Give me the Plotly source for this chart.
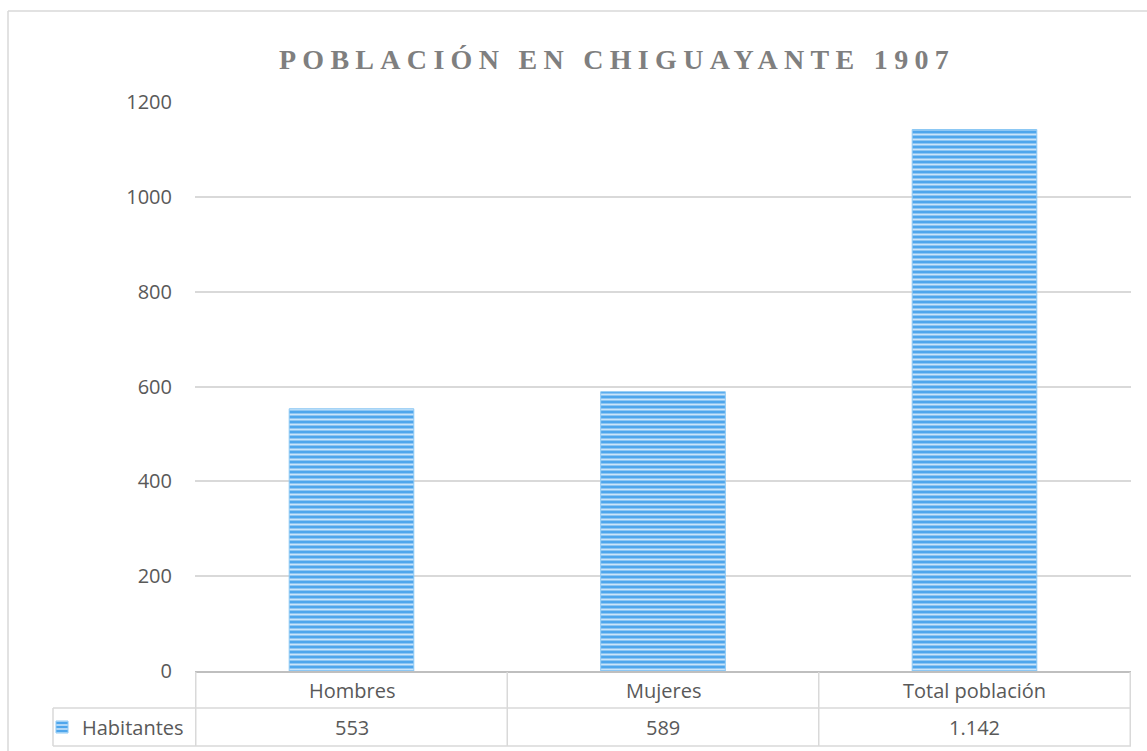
import plotly.graph_objects as go

# ---- data ----
categories = ["Hombres", "Mujeres", "Total población"]
habitantes = [553, 589, 1142]
value_labels = ["553", "589", "1.142"]
series_name = "Habitantes"
title_text = "POBLACIÓN EN CHIGUAYANTE 1907"
y_ticks = [0, 200, 400, 600, 800, 1000, 1200]

W, H = 1147, 751
ML, MR, MT, MB = 195, 16, 102, 80
pw = W - ML - MR
ph = H - MT - MB


def py(px):
    """pixel row -> paper y"""
    return (H - MB - px) / ph


def pxx(px):
    """pixel column -> paper x"""
    return (px - ML) / pw


grid_c = "#d9d9d9"
text_c = "#595959"
font_fam = "Open Sans, Noto Sans, sans-serif"

fig = go.Figure()
fig.add_trace(go.Bar(
    x=categories,
    y=habitantes,
    name=series_name,
    marker=dict(
        color="#4ea6ec",
        line=dict(color="#8cc8f4", width=1),
        pattern=dict(shape="-", fgcolor="#c9e4fa", bgcolor="#4ea6ec", size=5,
                     solidity=0.4, fillmode="replace"),
    ),
    showlegend=True,
))

shapes = []
line_style = dict(color=grid_c, width=1.5)
row1_top = py(672)
row_mid = py(708)
row_bot = py(746)
# horizontal table lines
shapes.append(dict(type="line", xref="paper", yref="paper", x0=pxx(53), x1=1, y0=row_mid, y1=row_mid, line=line_style))
shapes.append(dict(type="line", xref="paper", yref="paper", x0=pxx(53), x1=1, y0=row_bot, y1=row_bot, line=line_style))
# vertical category boundaries (through the x scale)
n = len(categories)
for i in range(n + 1):
    shapes.append(dict(type="line", xref="x", yref="paper", x0=i - 0.5, x1=i - 0.5,
                       y0=row1_top, y1=row_bot, line=line_style))
# legend cell left edge
shapes.append(dict(type="line", xref="paper", yref="paper", x0=pxx(53), x1=pxx(53),
                   y0=row_mid, y1=row_bot, line=line_style))
# outer chart frame (top + left)
shapes.append(dict(type="line", xref="paper", yref="paper", x0=pxx(8), x1=pxx(1160),
                   y0=py(11), y1=py(11), line=dict(color=grid_c, width=1.5)))
shapes.append(dict(type="line", xref="paper", yref="paper", x0=pxx(8), x1=pxx(8),
                   y0=py(11), y1=py(760), line=dict(color=grid_c, width=1.5)))

annotations = []
for c, v in zip(categories, value_labels):
    annotations.append(dict(x=c, xref="x", y=(row1_top + row_mid) / 2, yref="paper",
                            text=c, showarrow=False, yanchor="middle",
                            font=dict(family=font_fam, size=20, color=text_c)))
    annotations.append(dict(x=c, xref="x", y=(row_mid + row_bot) / 2, yref="paper",
                            text=v, showarrow=False, yanchor="middle",
                            font=dict(family=font_fam, size=20, color=text_c)))

fig.update_layout(
    width=W, height=H,
    margin=dict(l=ML, r=MR, t=MT, b=MB, autoexpand=False),
    paper_bgcolor="white", plot_bgcolor="white",
    bargap=0.6,
    title=dict(text="<b>" + title_text + "</b>", x=617 / W, xref="container", xanchor="center",
               y=1 - 59 / H, yref="container", yanchor="middle",
               font=dict(family="Liberation Serif, Times New Roman, serif", size=28, color="#7f7f7f")),
    xaxis=dict(showticklabels=False, showgrid=False, showline=True, linecolor="#bfbfbf",
               linewidth=2, ticks="", zeroline=False),
    yaxis=dict(range=[0, 1200], tickvals=y_ticks, showgrid=True, gridcolor=grid_c, gridwidth=1.5,
               zeroline=False, showline=False, ticks="", ticklabelstandoff=22,
               tickfont=dict(family=font_fam, size=20, color=text_c)),
    legend=dict(x=pxx(42), xanchor="left", y=(row_mid + row_bot) / 2, yanchor="middle",
                bgcolor="rgba(0,0,0,0)", borderwidth=0,
                font=dict(family=font_fam, size=20, color=text_c)),
    shapes=shapes,
    annotations=annotations,
)

post = """
document.body.style.margin = '0';
document.body.style.padding = '0';
var t = document.querySelectorAll('.gtitle');
t.forEach(function(e){ e.style.letterSpacing = '6.3px'; });
"""
fig.write_html("out.html", post_script=post, config={"displayModeBar": False})
